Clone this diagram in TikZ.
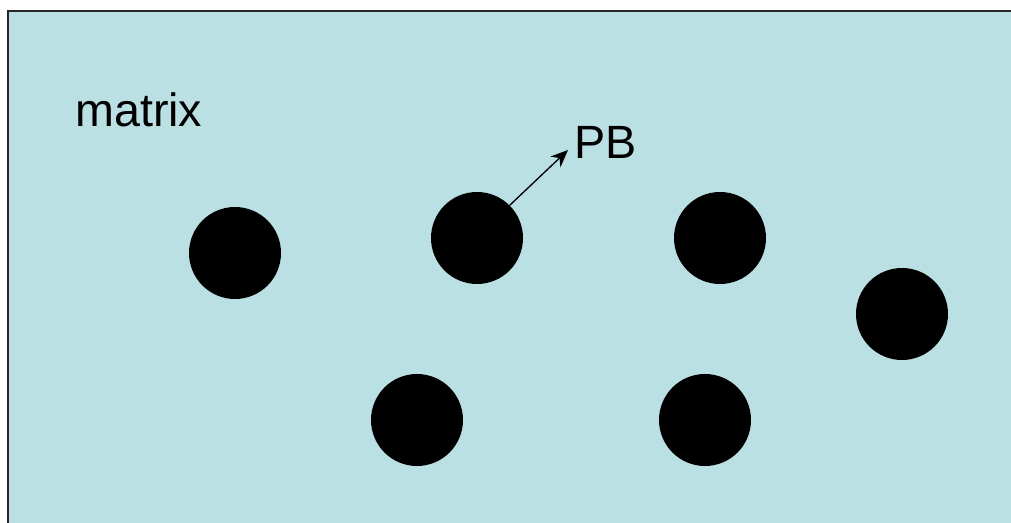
\documentclass[tikz,border=0pt]{standalone}
\usepackage{fontspec}
\setmainfont{Liberation Sans}
\usetikzlibrary{arrows.meta}
\definecolor{bgc}{HTML}{BBE0E3}
\begin{document}
\begin{tikzpicture}[x=0.75pt,y=-0.75pt,
  particle/.style={circle,fill=black,minimum size=69pt,inner sep=0pt},
  lbl/.style={font=\fontsize{35}{41}\selectfont,inner sep=0pt}]
\useasboundingbox (0,0) rectangle (1011,523);
\fill[white] (0,0) rectangle (1011,523);
\fill[bgc] (8,11) rectangle (1011,523);
\draw[black!85,line width=1.5pt] (8,523) -- (8,11) -- (1011,11);
\node[lbl,anchor=base west] (mx) at (75,127) {matrix};
\node[particle] (p1) at (235,253) {};
\node[particle] (p2) at (477,238) {};
\node[particle] (p3) at (720,238) {};
\node[particle] (p4) at (902,314) {};
\node[particle] (p5) at (417,420) {};
\node[particle] (p6) at (705,420) {};
\node[lbl,anchor=base west] (pb) at (574,159) {PB};
\coordinate (tip) at (568,150);
\draw[-{Stealth[length=13pt,width=11pt]},line width=1pt] (p2.45) -- (tip);
\end{tikzpicture}
\end{document}
